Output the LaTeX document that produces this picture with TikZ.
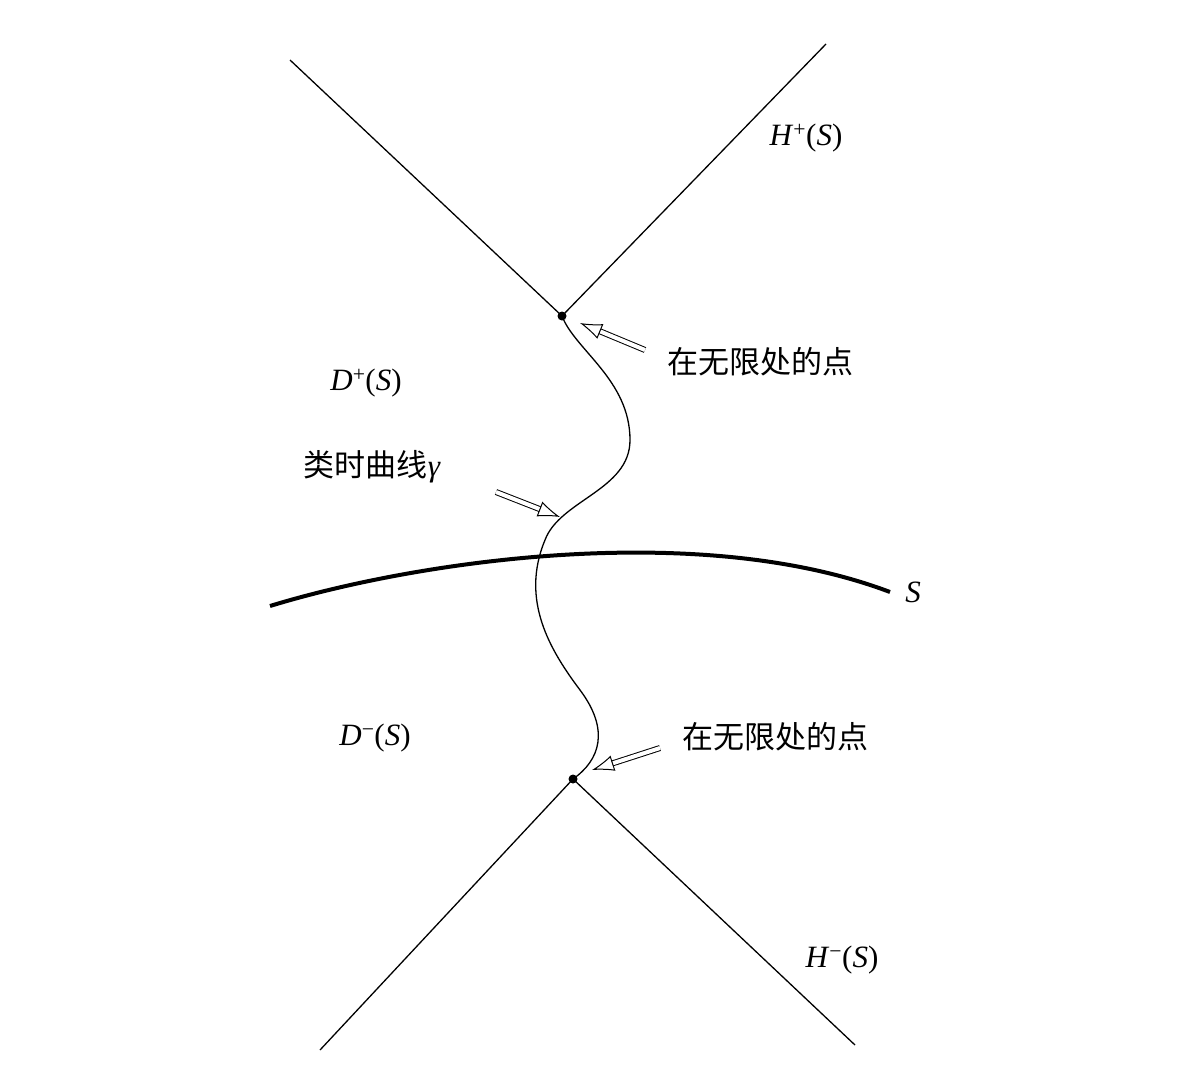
\documentclass[tikz,border=0pt]{standalone}
\usepackage{fontspec}
\newfontfamily\cjk{Noto Sans CJK SC}
\newfontfamily\ser{Liberation Serif}
\usetikzlibrary{arrows.meta}
\newcommand{\mylab}[2]{\textit{#1}\textsuperscript{#2}(\textit{S})}
\begin{document}
\begin{tikzpicture}[x=1pt,y=-1pt,
  lbl/.style={font=\ser\fontsize{31}{34}\selectfont},
  cj/.style={font=\cjk\fontsize{31}{34}\selectfont},
  hol/.style={double distance=4pt,line width=1pt,-{Latex[open,length=22pt,width=16pt]}}]
\useasboundingbox (0,0) rectangle (1196,1066);
\coordinate (top) at (562,316);
\coordinate (bot) at (573,779);
\coordinate (tl) at (290,60);
\coordinate (tr) at (826,44);
\coordinate (bl) at (320,1050);
\coordinate (br) at (855,1045);
\draw[line width=1.3pt] (tl) -- (top) -- (tr);
\draw[line width=1.3pt] (bl) -- (bot) -- (br);
\fill (top) circle (4.5);
\fill (bot) circle (4.5);
\draw[line width=4pt] (270,606) .. controls (420,560) and (700,520) .. (890,592);
\draw[line width=1.3pt] (top) .. controls (575,350) and (630,380) .. (630,440)
  .. controls (630,490) and (560,500) .. (545,540)
  .. controls (520,600) and (550,650) .. (580,690)
  .. controls (610,730) and (600,760) .. (bot);
\coordinate (a1s) at (645,350); \coordinate (a1e) at (580,323);
\coordinate (a2s) at (496,492); \coordinate (a2e) at (560,517);
\coordinate (a3s) at (660,748); \coordinate (a3e) at (592,770);
\draw[hol] (a1s) -- (a1e);
\draw[hol] (a2s) -- (a2e);
\draw[hol] (a3s) -- (a3e);
\node[lbl] (hp) at (806,138) {\mylab{H}{+}};
\node[lbl] (dp) at (366,383) {\mylab{D}{+}};
\node[cj] (g) at (372,467) {类时曲线{\ser\itshape γ}};
\node[cj] (p1) at (760,362) {在无限处的点};
\node[cj] (p2) at (775,737) {在无限处的点};
\node[lbl] (s) at (913,592) {\textit{S}};
\node[lbl] (dm) at (375,738) {\mylab{D}{−}};
\node[lbl] (hm) at (842,960) {\mylab{H}{−}};
\end{tikzpicture}
\end{document}
